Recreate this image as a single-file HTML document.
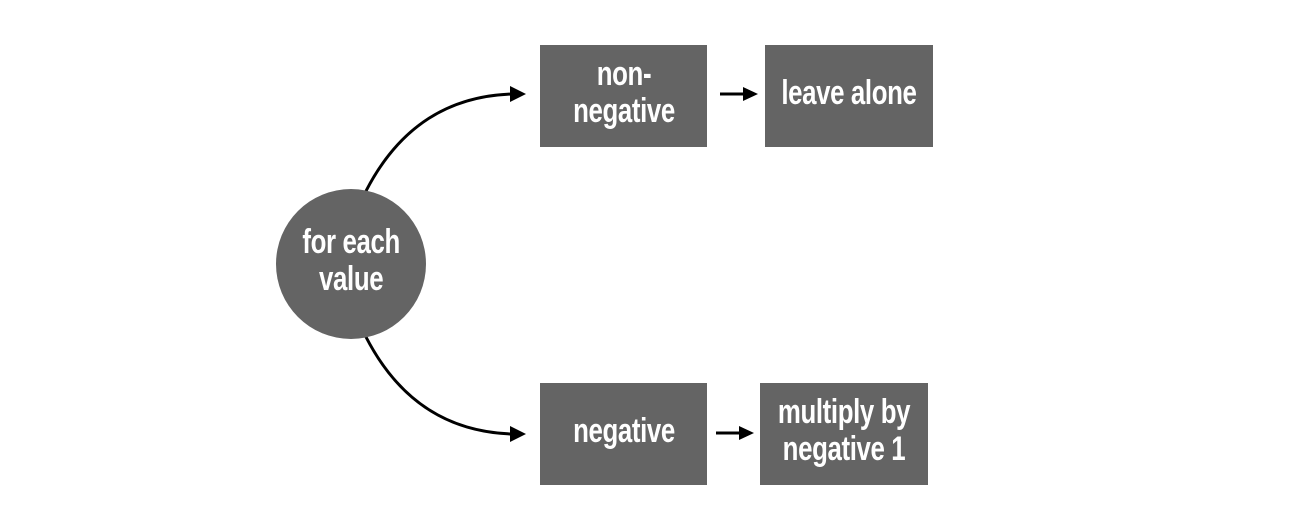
<!DOCTYPE html>
<html><head><style>
body{margin:0;width:1298px;height:523px;background:#fff;position:relative;overflow:hidden}
.b{position:absolute;background:#646464;color:#fff;display:flex;align-items:center;justify-content:center;text-align:center;font-family:"Liberation Sans",sans-serif;font-weight:bold;font-size:34px;line-height:37px;box-sizing:border-box;padding-bottom:6px}
.b span{display:inline-block;transform:scaleX(0.76);white-space:nowrap;letter-spacing:-0.5px}
</style></head><body>
<svg width="1298" height="523" style="position:absolute;left:0;top:0">
<g stroke="#000" stroke-width="3" fill="none">
<path d="M366,191 C400,125 450,96 512,94"/>
<path d="M366,337 C400,403 450,432 512,434"/>
<line x1="720" y1="94" x2="745" y2="94"/>
<line x1="716" y1="433" x2="741" y2="433"/>
</g>
<g fill="#000">
<path d="M510,86 L526,94 L510,102 z"/>
<path d="M510,426 L526,434 L510,442 z"/>
<path d="M743,87 L758,94 L743,101 z"/>
<path d="M739,426 L754,433 L739,440 z"/>
</g>
<circle cx="351" cy="264" r="75" fill="#646464"/>
</svg>
<div class="b" style="left:276px;top:189px;width:150px;height:150px;background:none"><span>for each<br>value</span></div>
<div class="b" style="left:540px;top:45px;width:167px;height:102px"><span>non-<br>negative</span></div>
<div class="b" style="left:765px;top:45px;width:168px;height:102px"><span>leave alone</span></div>
<div class="b" style="left:540px;top:383px;width:167px;height:102px"><span>negative</span></div>
<div class="b" style="left:760px;top:383px;width:168px;height:102px"><span>multiply by<br>negative 1</span></div>
</body></html>
